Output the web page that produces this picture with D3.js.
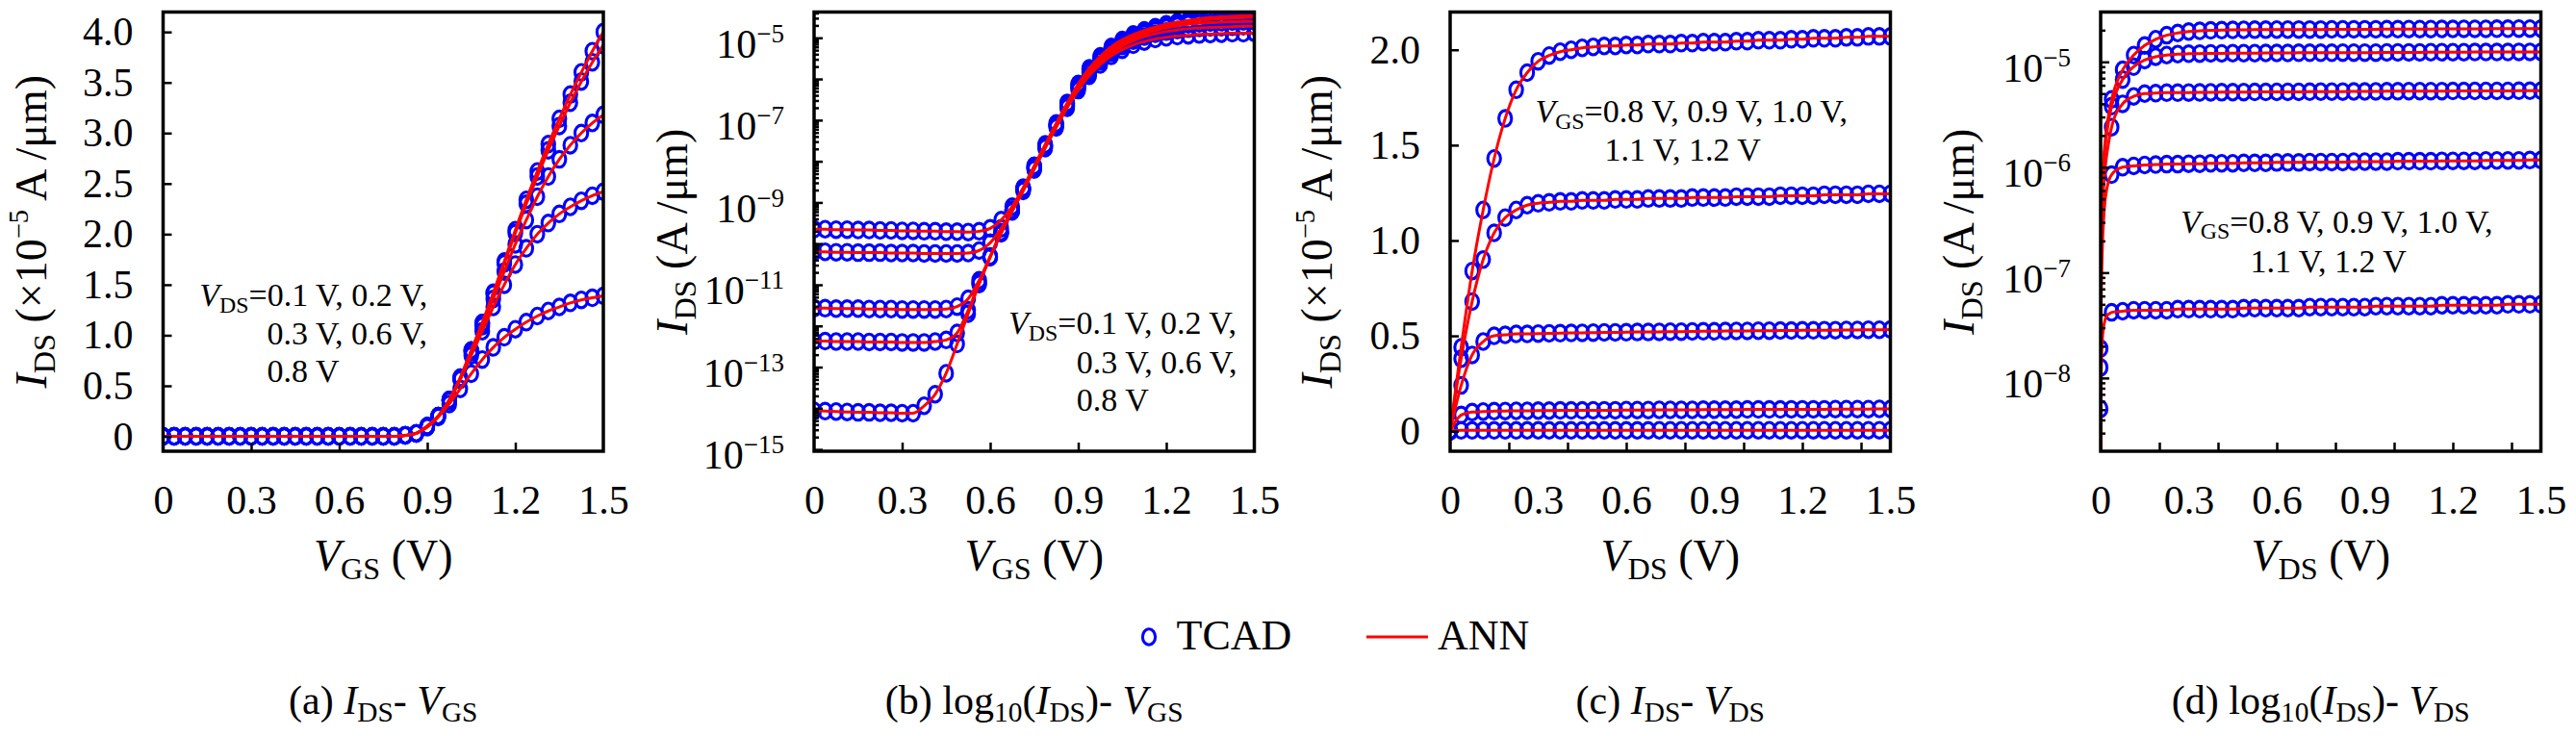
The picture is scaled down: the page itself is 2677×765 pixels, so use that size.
<!DOCTYPE html>
<html>
<head>
<meta charset="utf-8">
<script src="https://cdn.jsdelivr.net/npm/d3@7"></script>
<style>
  html, body { margin: 0; padding: 0; background: #fff; }
  svg { display: block; font-family: "Liberation Serif", "DejaVu Serif", serif; }
</style>
</head>
<body>
<svg id="chart" width="2677" height="765"></svg>
<script>
// sweep used for both VGS (a, b) and VDS (c, d), volts
const SWEEP = [0, 0.0375, 0.075, 0.1125, 0.15, 0.1875, 0.225, 0.2625, 0.3, 0.3375,
  0.375, 0.4125, 0.45, 0.4875, 0.525, 0.5625, 0.6, 0.6375, 0.675, 0.7125,
  0.75, 0.7875, 0.825, 0.8625, 0.9, 0.9375, 0.975, 1.0125, 1.05, 1.0875,
  1.125, 1.1625, 1.2, 1.2375, 1.275, 1.3125, 1.35, 1.3875, 1.425, 1.4625, 1.5];

// (a) IDS-VGS, units of 1e-5 A/um, one array per VDS
const idVgLin01 = [0,0,0,0,0,0,0,0,0,0, 0,0,0,0,0,0,0,0,0,0, 0,0,
  0.01,0.03,0.09,0.19,0.32,0.47,0.62,0.76,0.88,0.98,1.06,1.13,1.19,1.24,1.28,1.32,1.35,1.37,1.39];
const idVgLin02 = [0,0,0,0,0,0,0,0,0,0, 0,0,0,0,0,0,0,0,0,0, 0,0,
  0.01,0.03,0.1,0.2,0.35,0.56,0.8,1.04,1.28,1.5,1.7,1.86,2.0,2.11,2.2,2.27,2.33,2.38,2.42];
const idVgLin03 = [0,0,0,0,0,0,0,0,0,0, 0,0,0,0,0,0,0,0,0,0, 0,0,
  0.01,0.03,0.1,0.2,0.36,0.57,0.83,1.09,1.36,1.63,1.9,2.14,2.37,2.57,2.74,2.88,3.0,3.1,3.18];
const idVgLin06 = [0,0,0,0,0,0,0,0,0,0, 0,0,0,0,0,0,0,0,0,0, 0,0,
  0.01,0.03,0.1,0.2,0.36,0.58,0.85,1.12,1.41,1.71,2.01,2.3,2.57,2.83,3.07,3.3,3.51,3.7,3.87];
const idVgLin08 = [0,0,0,0,0,0,0,0,0,0, 0,0,0,0,0,0,0,0,0,0, 0,0,
  0.01,0.03,0.1,0.2,0.36,0.58,0.85,1.12,1.42,1.73,2.04,2.34,2.62,2.89,3.14,3.38,3.6,3.81,4.0];

// (b) log10(IDS)-VGS, exponent of A/um, one array per VDS
const idVgLog01 = [-14.06,-14.07,-14.08,-14.09,-14.1,-14.1,-14.11,-14.11,-14.12,-14.12,
  -13.94,-13.66,-13.15,-12.44,-11.7,-10.98,-10.33,-9.75,-9.22,-8.72,
  -8.2,-7.68,-7.18,-6.7,-6.27,-5.92,-5.65,-5.44,-5.29,-5.17,
  -5.09,-5.03,-4.99,-4.96,-4.94,-4.92,-4.91,-4.9,-4.89,-4.89,-4.88];
const idVgLog02 = [-12.37,-12.37,-12.38,-12.38,-12.38,-12.39,-12.39,-12.39,-12.4,-12.4,
  -12.4,-12.38,-12.34,-12.17,-11.62,-10.96,-10.32,-9.73,-9.2,-8.69,
  -8.17,-7.65,-7.14,-6.66,-6.22,-5.85,-5.57,-5.36,-5.2,-5.07,
  -4.97,-4.9,-4.85,-4.81,-4.78,-4.76,-4.75,-4.74,-4.73,-4.72,-4.72];
const idVgLog03 = [-11.57,-11.57,-11.58,-11.58,-11.58,-11.59,-11.59,-11.59,-11.6,-11.6,
  -11.6,-11.6,-11.59,-11.53,-11.34,-10.89,-10.31,-9.72,-9.18,-8.67,
  -8.15,-7.63,-7.12,-6.63,-6.19,-5.81,-5.52,-5.3,-5.14,-5.01,
  -4.9,-4.82,-4.76,-4.71,-4.67,-4.65,-4.63,-4.62,-4.61,-4.6,-4.6];
const idVgLog06 = [-10.2,-10.2,-10.21,-10.21,-10.22,-10.22,-10.22,-10.23,-10.23,-10.23,
  -10.24,-10.24,-10.24,-10.24,-10.23,-10.17,-9.98,-9.63,-9.18,-8.66,
  -8.13,-7.61,-7.1,-6.6,-6.15,-5.77,-5.48,-5.26,-5.09,-4.96,
  -4.86,-4.78,-4.71,-4.66,-4.61,-4.58,-4.55,-4.53,-4.52,-4.51,-4.5];
const idVgLog08 = [-9.65,-9.65,-9.66,-9.66,-9.67,-9.67,-9.68,-9.68,-9.69,-9.69,
  -9.7,-9.7,-9.71,-9.71,-9.72,-9.7,-9.63,-9.43,-9.1,-8.64,
  -8.11,-7.59,-7.08,-6.58,-6.12,-5.74,-5.45,-5.22,-5.05,-4.92,
  -4.82,-4.74,-4.67,-4.62,-4.58,-4.54,-4.51,-4.49,-4.48,-4.47,-4.46];

// (c) and (d) IDS-VDS, units of 1e-5 A/um, one array per VGS
const idVdLin08 = [0.00051,0.0042,0.0043,0.0044,0.0044,0.0044,0.0044,0.0045,0.0045,0.0045,
  0.0045,0.0045,0.0045,0.0046,0.0046,0.0046,0.0046,0.0046,0.0046,0.0047,
  0.0047,0.0047,0.0047,0.0047,0.0047,0.0048,0.0048,0.0048,0.0048,0.0048,
  0.0048,0.0049,0.0049,0.0049,0.0049,0.0049,0.0049,0.005,0.005,0.005,0.005];
const idVdLin09 = [0.00126,0.085,0.1,0.103,0.105,0.106,0.107,0.107,0.108,0.108,
  0.109,0.109,0.109,0.11,0.11,0.11,0.111,0.111,0.111,0.112,
  0.112,0.112,0.112,0.113,0.113,0.113,0.113,0.114,0.114,0.114,
  0.114,0.115,0.115,0.115,0.115,0.116,0.116,0.116,0.116,0.117,0.117];
const idVdLin10 = [0.0019,0.24,0.4,0.47,0.5,0.505,0.51,0.51,0.512,0.513,
  0.514,0.515,0.516,0.517,0.518,0.518,0.519,0.52,0.52,0.521,
  0.522,0.522,0.523,0.524,0.524,0.525,0.526,0.526,0.527,0.527,
  0.528,0.528,0.529,0.529,0.53,0.53,0.531,0.531,0.532,0.532,0.533];
const idVdLin11 = [0,0.38,0.68,0.9,1.04,1.12,1.16,1.185,1.195,1.2,
  1.205,1.205,1.21,1.21,1.21,1.215,1.215,1.215,1.22,1.22,
  1.22,1.22,1.225,1.225,1.225,1.225,1.23,1.23,1.23,1.23,
  1.235,1.235,1.235,1.235,1.24,1.24,1.24,1.24,1.245,1.245,1.245];
const idVdLin12 = [0,0.44,0.84,1.16,1.43,1.64,1.79,1.88,1.94,1.97,
  1.99,2.0,2.01,2.015,2.02,2.02,2.025,2.025,2.03,2.03,
  2.03,2.035,2.035,2.04,2.04,2.04,2.045,2.045,2.05,2.05,
  2.05,2.055,2.055,2.06,2.06,2.06,2.065,2.065,2.07,2.07,2.07];

// (d) ANN close to VDS = 0, exponent of A/um
const annVdNear = [0, 0.001, 0.002, 0.005, 0.01, 0.015, 0.02, 0.03];
const annNearLog08 = [-10, -8.3, -7.98, -7.67, -7.52, -7.45, -7.41, -7.39];
const annNearLog09 = [-10, -7.7, -7.3, -6.85, -6.5, -6.32, -6.22, -6.11];
const annNearLog10 = [-10, -7.2, -6.9, -6.5, -6.2, -6.02, -5.9, -5.72];
const annNearLog11 = [-10, -7.0, -6.7, -6.3, -6.0, -5.83, -5.7, -5.52];
const annNearLog12 = [-10, -6.93, -6.63, -6.23, -5.93, -5.76, -5.63, -5.46];

const xLabelTicks = [0, 0.3, 0.6, 0.9, 1.2, 1.5];
const xMarks03 = [0.3, 0.6, 0.9, 1.2];
const xMarks02 = [0.2, 0.4, 0.6, 0.8, 1.0, 1.2, 1.4];
const yTicksA = [0, 0.5, 1.0, 1.5, 2.0, 2.5, 3.0, 3.5, 4.0];
const yTicksC = [0, 0.5, 1.0, 1.5, 2.0];
const decadesB = [-15, -14, -13, -12, -11, -10, -9, -8, -7, -6, -5];
const labelDecadesB = [-15, -13, -11, -9, -7, -5];
const decadesD = [-8, -7, -6, -5];

const PLOT_TOP = 12.5, PLOT_H = 456.5, PLOT_W = 457.5;
const BLUE = "#0000ff", RED = "#ff0000";
const TICK_FS = 42, LABEL_FS = 46, CAPTION_FS = 42, NOTE_FS = 34, LEGEND_FS = 44;
const MARK_RX = 6.6, MARK_RY = 8.2, MARK_SW = 3.1;

const svg = d3.select("#chart");

// parts: [text, kind] with kind "", "i", "sub", "sup"
function addRich(text, parts, fs) {
  let shift = 0;
  parts.forEach(([str, kind]) => {
    const t = text.append("tspan").text(str);
    let target = 0, size = fs;
    if (kind === "sub") { target = fs * 0.2; size = fs * 0.7; }
    if (kind === "sup") { target = -fs * 0.4; size = fs * 0.62; }
    if (kind === "i") t.attr("font-style", "italic");
    t.attr("font-size", size);
    if (target !== shift) { t.attr("dy", target - shift); shift = target; }
  });
  return text;
}

const pairs = (xs, ys) => xs.map((x, i) => [x, ys[i]]);
const e10 = e => 10 ** e;
const toA = v => v * 1e-5;

const panels = [
  {
    id: "a", left: 169.5, log: false, yDomain: [-0.147, 4.197],
    tcad: [idVgLin01, idVgLin02, idVgLin03, idVgLin06, idVgLin08].map(v => pairs(SWEEP, v)),
    xMarks: xMarks03, yMajor: yTicksA,
    yLabel: [["I", "i"], ["DS", "sub"], [" (×10", ""], ["−5", "sup"], [" A\u2009/μm)", ""]], yLabelX: 47.5,
    xLabel: [["V", "i"], ["GS", "sub"], [" (V)", ""]],
    note: { lines: [[207.3, 318, [["V", "i"], ["DS", "sub"], ["=0.1 V, 0.2 V,", ""]]],
                    [277.5, 357.5, [["0.3 V, 0.6 V,", ""]]],
                    [277.5, 397, [["0.8 V", ""]]]] },
    caption: [["(a) ", ""], ["I", "i"], ["DS", "sub"], ["- ", ""], ["V", "i"], ["GS", "sub"]],
  },
  {
    id: "b", left: 846, log: true, yDomain: [e10(-15.044), e10(-4.374)],
    tcad: [idVgLog01, idVgLog02, idVgLog03, idVgLog06, idVgLog08].map(v => pairs(SWEEP, v.map(e10))),
    xMarks: xMarks03, decades: decadesB, labelDecades: labelDecadesB,
    yLabel: [["I", "i"], ["DS", "sub"], [" (A\u2009/μm)", ""]], yLabelX: 714,
    xLabel: [["V", "i"], ["GS", "sub"], [" (V)", ""]],
    note: { lines: [[1048, 347, [["V", "i"], ["DS", "sub"], ["=0.1 V, 0.2 V,", ""]]],
                    [1118.8, 388, [["0.3 V, 0.6 V,", ""]]],
                    [1118.8, 427, [["0.8 V", ""]]]] },
    caption: [["(b) log", ""], ["10", "sub"], ["(", ""], ["I", "i"], ["DS", "sub"], [")- ", ""], ["V", "i"], ["GS", "sub"]],
  },
  {
    id: "c", left: 1507, log: false, yDomain: [-0.105, 2.198],
    tcad: [idVdLin08, idVdLin09, idVdLin10, idVdLin11, idVdLin12].map(v => pairs(SWEEP, v)),
    xMarks: xMarks02, yMajor: yTicksC,
    yLabel: [["I", "i"], ["DS", "sub"], [" (×10", ""], ["−5", "sup"], [" A\u2009/μm)", ""]], yLabelX: 1384,
    xLabel: [["V", "i"], ["DS", "sub"], [" (V)", ""]],
    note: { lines: [[1595.4, 127, [["V", "i"], ["GS", "sub"], ["=0.8 V, 0.9 V, 1.0 V,", ""]]],
                    [1667.4, 166.5, [["1.1 V, 1.2 V", ""]]]] },
    caption: [["(c) ", ""], ["I", "i"], ["DS", "sub"], ["- ", ""], ["V", "i"], ["DS", "sub"]],
  },
  {
    id: "d", left: 2183, log: true, yDomain: [e10(-8.695), e10(-4.527)],
    tcad: [idVdLin08, idVdLin09, idVdLin10, idVdLin11, idVdLin12].map(v => pairs(SWEEP, v.map(toA))),
    ann: [[annNearLog08, idVdLin08], [annNearLog09, idVdLin09], [annNearLog10, idVdLin10],
          [annNearLog11, idVdLin11], [annNearLog12, idVdLin12]]
      .map(([near, lin]) => pairs(annVdNear, near.map(e10)).concat(pairs(SWEEP.slice(1), lin.slice(1).map(toA)))),
    xMarks: xMarks02, decades: decadesD, labelDecades: decadesD,
    yLabel: [["I", "i"], ["DS", "sub"], [" (A\u2009/μm)", ""]], yLabelX: 2051,
    xLabel: [["V", "i"], ["DS", "sub"], [" (V)", ""]],
    note: { lines: [[2266, 241.5, [["V", "i"], ["GS", "sub"], ["=0.8 V, 0.9 V, 1.0 V,", ""]]],
                    [2338.4, 282.5, [["1.1 V, 1.2 V", ""]]]] },
    caption: [["(d) log", ""], ["10", "sub"], ["(", ""], ["I", "i"], ["DS", "sub"], [")- ", ""], ["V", "i"], ["DS", "sub"]],
  },
];

function styleAxis(ax) {
  ax.select(".domain").remove();
  ax.attr("font-family", null).attr("font-size", TICK_FS);
  ax.selectAll("line").attr("stroke", "#000").attr("stroke-width", 2.5);
  ax.selectAll("text").attr("fill", "#000");
}

function drawPanel(p) {
  const g = svg.append("g").attr("transform", `translate(${p.left},${PLOT_TOP})`);
  const x = d3.scaleLinear().domain([0, 1.5]).range([0, PLOT_W]);
  const y = (p.log ? d3.scaleLog() : d3.scaleLinear()).domain(p.yDomain).range([PLOT_H, 0]);

  g.append("clipPath").attr("id", "clip-" + p.id)
    .append("rect").attr("width", PLOT_W).attr("height", PLOT_H);
  const plot = g.append("g").attr("clip-path", `url(#clip-${p.id})`);

  p.tcad.forEach(pts => {
    plot.append("g").selectAll("ellipse")
      .data(pts.filter(d => !p.log || d[1] > 0))
      .join("ellipse")
        .attr("cx", d => x(d[0]))
        .attr("cy", d => y(d[1]))
        .attr("rx", MARK_RX)
        .attr("ry", MARK_RY)
        .attr("fill", "none")
        .attr("stroke", BLUE)
        .attr("stroke-width", MARK_SW);
  });

  const line = d3.line().x(d => x(d[0])).y(d => y(d[1])).curve(d3.curveMonotoneX);
  (p.ann || p.tcad).forEach(pts => {
    plot.append("path")
      .datum(pts.filter(d => !p.log || d[1] > 0))
      .attr("d", line)
      .attr("fill", "none")
      .attr("stroke", RED)
      .attr("stroke-width", 3);
  });

  p.note.lines.forEach(([lx, ly, parts]) => {
    addRich(g.append("text").attr("x", lx - p.left).attr("y", ly - PLOT_TOP), parts, NOTE_FS);
  });

  // x ticks (inward) and labels
  styleAxis(g.append("g").attr("transform", `translate(0,${PLOT_H})`)
    .call(d3.axisBottom(x).tickValues(p.xMarks).tickSize(-9).tickFormat("")));
  styleAxis(g.append("g").attr("transform", `translate(0,${PLOT_H})`)
    .call(d3.axisBottom(x).tickValues(xLabelTicks).tickSize(0).tickPadding(35)
      .tickFormat(d => d === 0 ? "0" : d.toFixed(1))));

  // y ticks and labels
  if (!p.log) {
    styleAxis(g.append("g")
      .call(d3.axisLeft(y).tickValues(p.yMajor).tickSize(-9).tickFormat("")));
    styleAxis(g.append("g")
      .call(d3.axisLeft(y).tickValues(p.yMajor).tickSize(0).tickPadding(31)
        .tickFormat(d => d === 0 ? "0" : d.toFixed(1))));
  } else {
    const [lo, hi] = p.yDomain;
    const minor = [];
    for (let k = Math.floor(Math.log10(lo)); k <= Math.ceil(Math.log10(hi)); k++) {
      for (let m = 2; m <= 9; m++) {
        const v = m * 10 ** k;
        if (v > lo && v < hi) minor.push(v);
      }
    }
    styleAxis(g.append("g")
      .call(d3.axisLeft(y).tickValues(minor).tickSize(-5).tickFormat("")));
    styleAxis(g.append("g")
      .call(d3.axisLeft(y).tickValues(p.decades.map(e10)).tickSize(-9).tickFormat("")));
    const lab = g.append("g")
      .call(d3.axisLeft(y).tickValues(p.labelDecades.map(e10)).tickSize(0).tickPadding(31).tickFormat(() => ""));
    styleAxis(lab);
    lab.selectAll(".tick text").each(function (d) {
      const t = d3.select(this).attr("dy", "0.47em");
      t.append("tspan").text("10");
      t.append("tspan").attr("dy", -16).attr("font-size", 27)
        .text("−" + Math.abs(Math.round(Math.log10(d))));
    });
  }

  g.append("rect")
    .attr("width", PLOT_W).attr("height", PLOT_H)
    .attr("fill", "none").attr("stroke", "#000").attr("stroke-width", 3.5);

  // axis titles
  addRich(svg.append("text")
    .attr("transform", `translate(${p.yLabelX},${PLOT_TOP + PLOT_H / 2}) rotate(-90)`)
    .attr("text-anchor", "middle"), p.yLabel, LABEL_FS);
  addRich(svg.append("text")
    .attr("x", p.left + PLOT_W / 2).attr("y", 593)
    .attr("text-anchor", "middle"), p.xLabel, LABEL_FS);

  addRich(svg.append("text")
    .attr("x", p.left + PLOT_W / 2).attr("y", 742)
    .attr("text-anchor", "middle"), p.caption, CAPTION_FS);
}

panels.forEach(drawPanel);

// shared legend
svg.append("ellipse").attr("cx", 1194).attr("cy", 662).attr("rx", MARK_RX).attr("ry", MARK_RY)
  .attr("fill", "none").attr("stroke", BLUE).attr("stroke-width", MARK_SW);
svg.append("text").attr("x", 1222.5).attr("y", 675).attr("font-size", LEGEND_FS).text("TCAD");
svg.append("line").attr("x1", 1420).attr("x2", 1484).attr("y1", 662).attr("y2", 662)
  .attr("stroke", RED).attr("stroke-width", 3.2);
svg.append("text").attr("x", 1494).attr("y", 675).attr("font-size", LEGEND_FS).text("ANN");
</script>
</body>
</html>
